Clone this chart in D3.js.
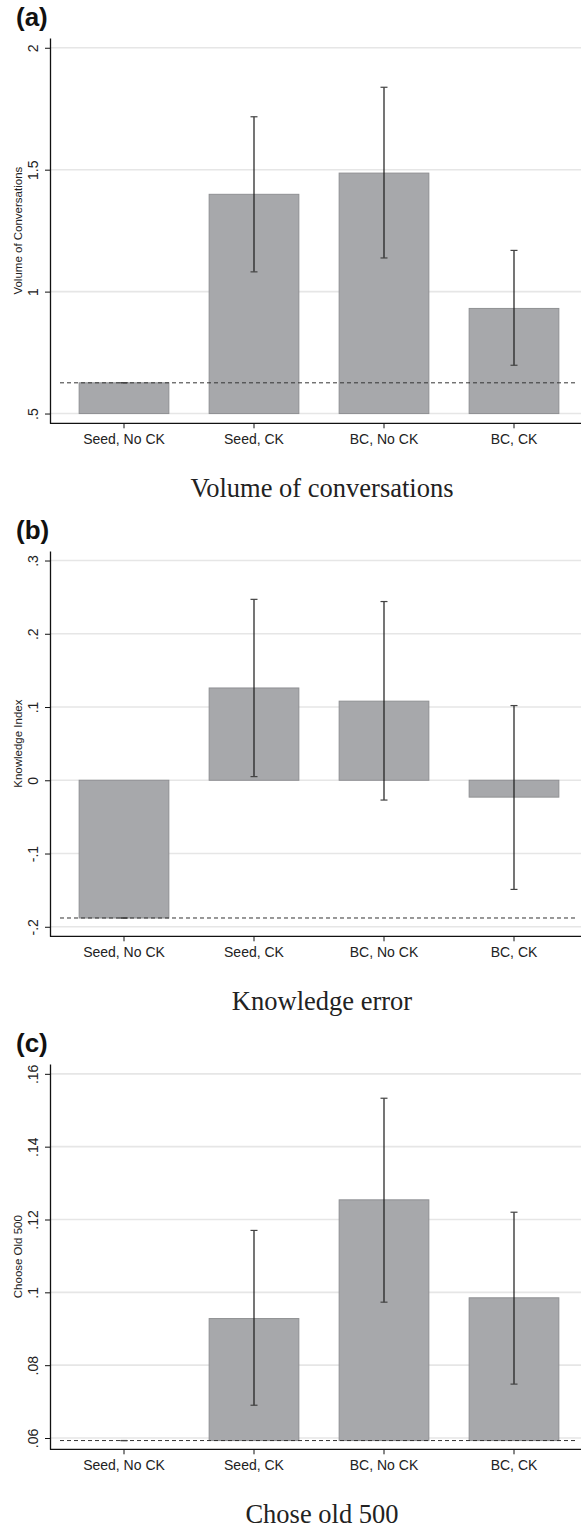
<!DOCTYPE html>
<html>
<head>
<meta charset="utf-8">
<script src="https://cdn.jsdelivr.net/npm/d3@7.9.0/dist/d3.min.js"></script>
<style>
  body { margin: 0; background: #fff; }
  svg { display: block; }
  .tick text { font-family: "Liberation Sans", Arial, sans-serif; fill: #222; }
</style>
</head>
<body>
<svg id="chart" width="581" height="1531"></svg>
<script>
// categories shared by all three panels
const categories = ["Seed, No CK", "Seed, CK", "BC, No CK", "BC, CK"];

// (a) volume of conversations
const volumeMean = [0.626, 1.399, 1.486, 0.931];
const volumeLow = [0.626, 1.081, 1.138, 0.698];
const volumeHigh = [0.627, 1.717, 1.838, 1.169];
const volumeTicks = [0.5, 1, 1.5, 2];

// (b) knowledge error
const knowledgeMean = [-0.188, 0.126, 0.108, -0.023];
const knowledgeLow = [-0.188, 0.005, -0.027, -0.149];
const knowledgeHigh = [-0.188, 0.247, 0.244, 0.102];
const knowledgeTicks = [-0.2, -0.1, 0, 0.1, 0.2, 0.3];

// (c) chose old 500
const choseMean = [0.0593, 0.0928, 0.1254, 0.0985];
const choseLow = [0.0593, 0.069, 0.0973, 0.0748];
const choseHigh = [0.0593, 0.117, 0.1533, 0.122];
const choseTicks = [0.06, 0.08, 0.1, 0.12, 0.14, 0.16];

const panels = [
  { tag: "(a)", yTitle: "Volume of Conversations", caption: "Volume of conversations",
    mean: volumeMean, low: volumeLow, high: volumeHigh, ticks: volumeTicks,
    domain: [0.46, 2.04], base: 0.5, ref: volumeMean[0] },
  { tag: "(b)", yTitle: "Knowledge Index", caption: "Knowledge error",
    mean: knowledgeMean, low: knowledgeLow, high: knowledgeHigh, ticks: knowledgeTicks,
    domain: [-0.213, 0.313], base: 0, ref: knowledgeMean[0] },
  { tag: "(c)", yTitle: "Choose Old 500", caption: "Chose old 500",
    mean: choseMean, low: choseLow, high: choseHigh, ticks: choseTicks,
    domain: [0.0569, 0.1627], base: choseMean[0], ref: choseMean[0] }
];

const svg = d3.select("#chart");
const panelH = 513;
const axisX = 50, plotRight = 581;
const plotTop = 38, plotBottom = 423.3;

// stata-style labels: drop the leading zero
const fmt = v => String(+v.toFixed(3)).replace(/^(-?)0\./, "$1.");

const x = d3.scaleBand()
  .domain(categories)
  .range([59, 579])
  .paddingInner(0.31)
  .paddingOuter(0.155);

panels.forEach((p, i) => {
  const g = svg.append("g").attr("transform", `translate(0,${i * panelH})`);

  const y = d3.scaleLinear().domain(p.domain).range([plotBottom, plotTop]);

  // panel tag
  g.append("text")
    .attr("x", 16).attr("y", 26)
    .attr("font-family", "Liberation Sans, Arial, sans-serif")
    .attr("font-weight", "bold")
    .attr("font-size", 26)
    .attr("fill", "#111")
    .text(p.tag);

  // gridlines
  g.append("g").selectAll("line")
    .data(p.ticks)
    .join("line")
    .attr("x1", axisX).attr("x2", plotRight)
    .attr("y1", d => y(d)).attr("y2", d => y(d))
    .attr("stroke", "#e6e6e6")
    .attr("stroke-width", 1.6);

  // bars
  g.append("g").selectAll("rect")
    .data(categories)
    .join("rect")
    .attr("x", d => x(d))
    .attr("width", x.bandwidth())
    .attr("y", (d, j) => Math.min(y(p.mean[j]), y(p.base)))
    .attr("height", (d, j) => Math.abs(y(p.mean[j]) - y(p.base)))
    .attr("fill", "#a7a8ab")
    .attr("stroke", "#8f9093")
    .attr("stroke-width", 1);

  // reference (dashed) line at the Seed, No CK mean
  g.append("line")
    .attr("x1", 60).attr("x2", 577)
    .attr("y1", y(p.ref)).attr("y2", y(p.ref))
    .attr("stroke", "#333")
    .attr("stroke-width", 1)
    .attr("stroke-dasharray", "4,3");

  // error bars
  const err = g.append("g").attr("stroke", "#1a1a1a").attr("stroke-width", 1.2);
  categories.forEach((c, j) => {
    const cx = x(c) + x.bandwidth() / 2;
    err.append("line")
      .attr("x1", cx).attr("x2", cx)
      .attr("y1", y(p.low[j])).attr("y2", y(p.high[j]));
    [p.low[j], p.high[j]].forEach(v => {
      err.append("line")
        .attr("x1", cx - 3.5).attr("x2", cx + 3.5)
        .attr("y1", y(v)).attr("y2", y(v))
        .attr("stroke", "#444");
    });
  });

  // y axis
  const yAxis = g.append("g")
    .attr("transform", `translate(${axisX},0)`)
    .call(d3.axisLeft(y).tickValues(p.ticks).tickFormat(fmt).tickSize(5).tickSizeOuter(0));
  yAxis.select(".domain").attr("stroke", "#111").attr("stroke-width", 1.3);
  yAxis.selectAll(".tick line").attr("stroke", "#111");
  yAxis.selectAll(".tick text")
    .attr("transform", "rotate(-90)")
    .attr("x", 0).attr("y", -12).attr("dy", 0)
    .attr("text-anchor", "middle")
    .attr("font-size", 14);

  // x axis
  const xAxis = g.append("g")
    .attr("transform", `translate(0,${plotBottom})`)
    .call(d3.axisBottom(x).tickSize(5).tickSizeOuter(0));
  xAxis.select(".domain")
    .attr("d", `M${axisX},0H${plotRight}`)
    .attr("stroke", "#111").attr("stroke-width", 1.3);
  xAxis.selectAll(".tick line").attr("stroke", "#111");
  xAxis.selectAll(".tick text")
    .attr("y", 11)
    .attr("font-size", 14);

  // y axis title
  g.append("text")
    .attr("transform", `translate(22,${(plotTop + plotBottom) / 2}) rotate(-90)`)
    .attr("text-anchor", "middle")
    .attr("font-family", "Liberation Sans, Arial, sans-serif")
    .attr("font-size", 11.5)
    .attr("fill", "#222")
    .text(p.yTitle);

  // caption
  g.append("text")
    .attr("x", 322).attr("y", 497)
    .attr("text-anchor", "middle")
    .attr("font-family", "Liberation Serif, Times New Roman, serif")
    .attr("font-size", 26.5)
    .attr("fill", "#222")
    .text(p.caption);
});
</script>
</body>
</html>
